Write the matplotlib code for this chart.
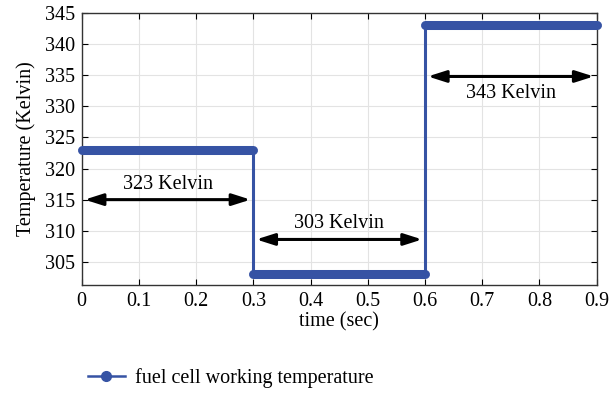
import matplotlib
matplotlib.use('Agg')

import matplotlib.pyplot as plt
from matplotlib.lines import Line2D

plt.rcParams['font.family'] = ['Liberation Serif', 'DejaVu Serif']

# step profile of the fuel cell working temperature
t_start = [0.0, 0.3, 0.6]
t_end = [0.3, 0.6, 0.9]
temps = [323, 303, 343]
labels = ["323 Kelvin", "303 Kelvin", "343 Kelvin"]
arrow_y = [315, 308.6, 334.8]
text_y = [317.5, 311.2, 332.0]

blue = '#3653a4'
fs = 14.5

fig = plt.figure(figsize=(6.1, 3.94), dpi=100)
ax = fig.add_axes([0.134, 0.277, 0.844, 0.690])

# thin connecting line through the steps
xs, ys = [], []
for a, b, v in zip(t_start, t_end, temps):
    xs += [a, b]
    ys += [v, v]
ax.plot(xs, ys, color=blue, linewidth=2.2, zorder=3)
# thick horizontal levels
for a, b, v in zip(t_start, t_end, temps):
    ax.plot([a, b], [v, v], color=blue, linewidth=6.5,
            solid_capstyle='round', zorder=4, clip_on=False)

for a, b, ay, ty, lab in zip(t_start, t_end, arrow_y, text_y, labels):
    ax.annotate('', xy=(b - 0.005, ay), xytext=(a + 0.005, ay),
                arrowprops=dict(arrowstyle='<|-|>,head_length=1.1,head_width=0.35',
                                color='black', lw=2.2, shrinkA=0, shrinkB=0),
                zorder=5)
    ax.text((a + b) / 2, ty, lab, ha='center', va='center', fontsize=fs)

ax.set_xlim(0, 0.9)
ax.set_ylim(301.3, 345)
ax.set_xticks([0, 0.1, 0.2, 0.3, 0.4, 0.5, 0.6, 0.7, 0.8, 0.9])
ax.set_xticklabels(['0', '0.1', '0.2', '0.3', '0.4', '0.5', '0.6', '0.7', '0.8', '0.9'])
ax.set_yticks(range(305, 346, 5))
ax.tick_params(direction='in', top=True, right=True, labelsize=fs, length=4, pad=5)
ax.grid(True, color='#e3e3e3', linewidth=0.8)
ax.set_axisbelow(True)
for s in ax.spines.values():
    s.set_linewidth(1.0)
    s.set_color('#333333')

ax.set_xlabel('time (sec)', fontsize=fs, labelpad=1)
ax.set_ylabel('Temperature (Kelvin)', fontsize=fs, labelpad=6)

handle = Line2D([], [], color=blue, linewidth=1.8, marker='o', markersize=7)
fig.legend([handle], ['fuel cell working temperature'], loc='center left',
           bbox_to_anchor=(0.115, 0.04), frameon=False, fontsize=fs,
           handlelength=1.8, handletextpad=0.5)

fig.savefig('out.png', dpi=100)
